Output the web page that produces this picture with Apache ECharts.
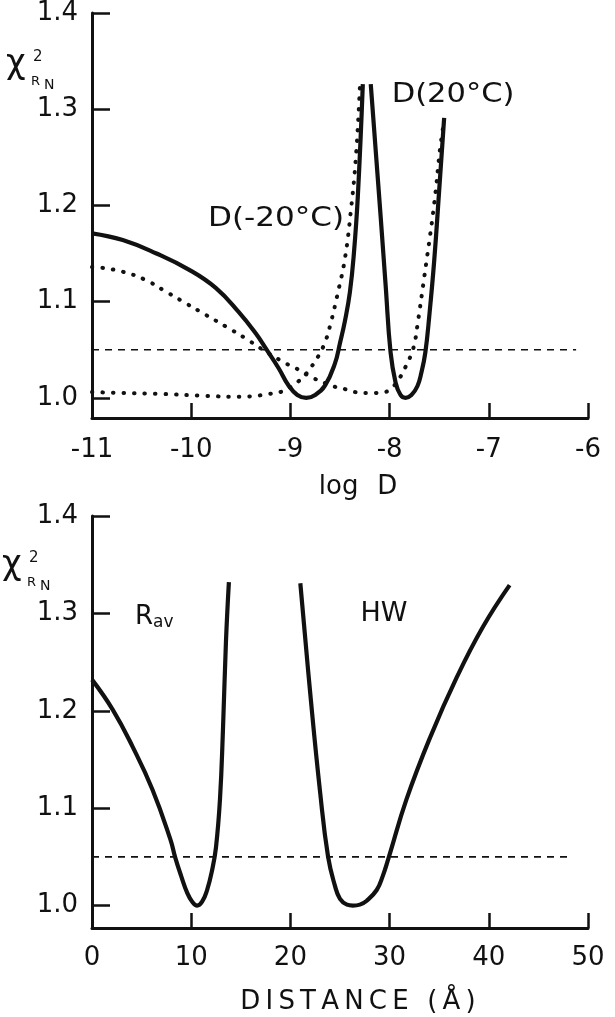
<!DOCTYPE html>
<html>
<head>
<meta charset="utf-8">
<script src="https://cdn.jsdelivr.net/npm/echarts@6/dist/echarts.min.js"></script>
<style>
  html, body { margin: 0; padding: 0; background: #fff; }
  #main { width: 615px; height: 1017px; }
</style>
</head>
<body>
<div id="main"></div>
<script>
// top panel: chi^2 vs log D
var yTicks = [1.0, 1.1, 1.2, 1.3, 1.4];

var solidAx = [-11, -10.69, -10.35, -10.02, -9.75, -9.52, -9.35, -9.24, -9.12, -9.02, -8.93, -8.84, -8.75, -8.65, -8.55, -8.5, -8.45, -8.4, -8.36, -8.32, -8.27];
var solidAy = [1.171, 1.164, 1.150, 1.133, 1.114, 1.089, 1.067, 1.05, 1.031, 1.013, 1.003, 1.0, 1.003, 1.013, 1.036, 1.057, 1.08, 1.11, 1.15, 1.21, 1.326];

var solidBx = [-8.19, -8.14, -8.09, -8.04, -7.99, -7.94, -7.89, -7.84, -7.78, -7.72, -7.68, -7.64, -7.6, -7.55, -7.5, -7.45];
var solidBy = [1.326, 1.257, 1.188, 1.117, 1.047, 1.016, 1.003, 1.0, 1.003, 1.012, 1.026, 1.047, 1.085, 1.143, 1.216, 1.291];

var dotPx = [-11, -10.89, -10.69, -10.47, -10.25, -10.05, -9.85, -9.65, -9.44, -9.25, -9.05, -8.95, -8.87, -8.78, -8.69, -8.57, -8.45, -8.35, -8.2, -8.05, -7.97, -7.89, -7.84, -7.79, -7.75, -7.72, -7.65, -7.55, -7.49, -7.45];
var dotPy = [1.136, 1.135, 1.131, 1.123, 1.110, 1.098, 1.086, 1.074, 1.061, 1.048, 1.036, 1.031, 1.026, 1.021, 1.017, 1.012, 1.009, 1.006, 1.005, 1.006, 1.011, 1.022, 1.032, 1.043, 1.056, 1.075, 1.126, 1.202, 1.260, 1.288];

var dotQx = [-11, -10.69, -10.3, -9.85, -9.5, -9.35, -9.22, -9.1, -9.0, -8.92, -8.85, -8.79, -8.72, -8.65, -8.6, -8.52, -8.45, -8.39, -8.34, -8.30];
var dotQy = [1.006, 1.005, 1.004, 1.002, 1.001, 1.002, 1.004, 1.006, 1.011, 1.017, 1.024, 1.032, 1.043, 1.058, 1.075, 1.11, 1.145, 1.195, 1.25, 1.322];

var limitTopX = [-11, -6.12];
var limitTopY = [1.05, 1.05];

// bottom panel: chi^2 vs distance
var ravX = [0, 2.1, 4.1, 6.1, 7.9, 8.4, 9.0, 9.6, 10.1, 10.6, 11.1, 11.6, 12.1, 12.5, 12.9, 13.2, 13.5, 13.8];
var ravY = [1.232, 1.201, 1.163, 1.119, 1.068, 1.049, 1.030, 1.013, 1.004, 1.0, 1.004, 1.016, 1.036, 1.06, 1.109, 1.18, 1.27, 1.332];

var hwX = [21.0, 22.0, 23.0, 23.8, 24.5, 25.0, 25.7, 26.3, 27.0, 27.7, 28.7, 29.3, 29.9, 31.7, 34.1, 36.8, 39.4, 42.1];
var hwY = [1.331, 1.218, 1.116, 1.050, 1.020, 1.007, 1.001, 1.0, 1.001, 1.005, 1.016, 1.030, 1.049, 1.109, 1.173, 1.235, 1.286, 1.329];

var limitBotX = [0, 48.2];
var limitBotY = [1.05, 1.05];

var FONT = 'DejaVu Sans';
var INK = '#111';
var T = '\u2009'; // thin space, the original lettering is wide

function pairs(xs, ys) {
    return xs.map(function (x, i) { return [x, ys[i]]; });
}

function solid(idx, xs, ys) {
    return {
        type: 'line', xAxisIndex: idx, yAxisIndex: idx,
        data: pairs(xs, ys), showSymbol: false, smooth: 0.45,
        lineStyle: { color: INK, width: 4.2 }
    };
}

function dotted(idx, xs, ys) {
    return {
        type: 'line', xAxisIndex: idx, yAxisIndex: idx,
        data: pairs(xs, ys), showSymbol: false, smooth: 0.45,
        lineStyle: { color: INK, width: 4, type: [0.5, 10], cap: 'round' }
    };
}

function dashed(idx, xs, ys) {
    return {
        type: 'line', xAxisIndex: idx, yAxisIndex: idx,
        data: pairs(xs, ys), showSymbol: false,
        lineStyle: { color: INK, width: 1.6, type: [7, 6] }
    };
}

function xAxisOf(idx, lo, hi, step, name, gap, margin) {
    return {
        type: 'value', gridIndex: idx, min: lo, max: hi, interval: step,
        name: name, nameLocation: 'middle', nameGap: gap,
        nameTextStyle: { fontFamily: FONT, fontSize: 26, color: INK, padding: [0, 0, 0, 36] },
        axisLine: { show: true, lineStyle: { color: INK, width: 3 } },
        axisTick: { show: true, inside: true, length: 15, lineStyle: { color: INK, width: 2.5 } },
        axisLabel: { margin: margin, fontFamily: FONT, fontSize: 26, color: INK },
        splitLine: { show: false }
    };
}

function yAxisOf(idx, lo) {
    return {
        type: 'value', gridIndex: idx, min: lo, max: 1.4,
        axisLine: { show: true, lineStyle: { color: INK, width: 3 } },
        axisTick: { show: true, inside: true, length: 18, customValues: yTicks, lineStyle: { color: INK, width: 2.5 } },
        axisLabel: {
            margin: 14, fontFamily: FONT, fontSize: 26, color: INK, customValues: yTicks,
            padding: [6, 0, 0, 0],
            formatter: function (v) { return v.toFixed(1); }
        },
        splitLine: { show: false }
    };
}

function chiLabel(left, top) {
    return [
        { type: 'text', left: left, top: top, style: { text: 'χ', font: '34px ' + FONT, fill: INK } },
        { type: 'text', left: left + 27, top: top + 3, style: { text: '2', font: '15px ' + FONT, fill: INK } },
        { type: 'text', left: left + 25, top: top + 28, style: { text: 'R', font: '13px ' + FONT, fill: INK } },
        { type: 'text', left: left + 38, top: top + 31, style: { text: 'N', font: '14px ' + FONT, fill: INK } }
    ];
}

function tag(text, cx, cy, size, sx) {
    return {
        type: 'text', x: cx, y: cy, scaleX: sx,
        style: { text: text, font: size + 'px ' + FONT, fill: INK, align: 'center', verticalAlign: 'middle' }
    };
}

var myChart = echarts.init(document.getElementById('main'));

var option = {
    backgroundColor: '#fff',
    animation: false,
    grid: [
        { left: 92, top: 12, width: 496, height: 406 },
        { left: 92, top: 516, width: 496, height: 412 }
    ],
    xAxis: [
        xAxisOf(0, -11, -6, 1, 'log' + T + ' ' + T + 'D', 56, 19),
        xAxisOf(1, 0, 50, 10, 'D' + T + 'I' + T + 'S' + T + 'T' + T + 'A' + T + 'N' + T + 'C' + T + 'E' + T + ' ' + T + '(' + T + 'Å' + T + ')', 61, 17)
    ],
    yAxis: [yAxisOf(0, 0.979), yAxisOf(1, 0.977)],
    graphic: [].concat(
        chiLabel(6, 47),
        chiLabel(2, 548),
        [
            tag('D(-20°C)', 276, 219, 27, 1.15),
            tag('D(20°C)', 453, 95, 27, 1.13),
            {
                type: 'text', x: 135, y: 604,
                style: { rich: { a: { font: '26px ' + FONT, fill: INK }, b: { font: '17px ' + FONT, fill: INK, padding: [10, 0, 0, 0] } },
                         text: '{a|R}{b|av}' }
            },
            tag('HW', 384, 614, 27, 1.0)
        ]
    ),
    series: [
        dashed(0, limitTopX, limitTopY),
        solid(0, solidAx, solidAy),
        solid(0, solidBx, solidBy),
        dotted(0, dotPx, dotPy),
        dotted(0, dotQx, dotQy),
        dashed(1, limitBotX, limitBotY),
        solid(1, ravX, ravY),
        solid(1, hwX, hwY)
    ]
};

myChart.setOption(option);
</script>
</body>
</html>
